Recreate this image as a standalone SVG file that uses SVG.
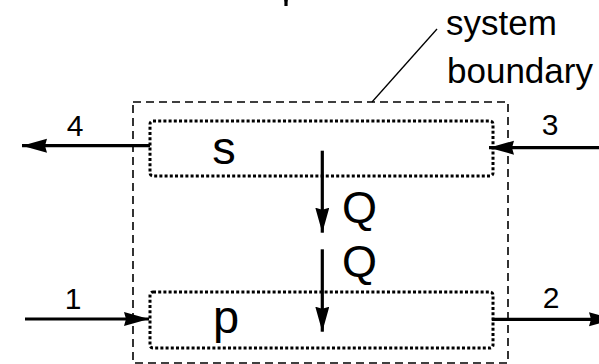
<svg xmlns="http://www.w3.org/2000/svg" width="599" height="364" viewBox="0 0 599 364">
<style>
.lbl{font-family:"Liberation Sans",Arial,sans-serif;fill:#000}
.num{font-size:30px;text-anchor:middle}
.big{font-size:47px;text-anchor:middle}
.q{font-size:45px}
.sb{font-size:35px}
.box{fill:none;stroke:#000;stroke-width:3;stroke-dasharray:3 2.2}
.bound{fill:none;stroke:#000;stroke-width:1.6;stroke-dasharray:8 5}
.flow{fill:none;stroke:#000;stroke-width:3.2}
</style>
<defs>
<marker id="ah" markerUnits="userSpaceOnUse" markerWidth="28" markerHeight="16" refX="25" refY="7" orient="auto">
<path d="M0,0 L25,7 L0,14 L2,7 z" fill="#000"/>
</marker>
</defs>
<g id="system-boundary">
<rect class="bound" x="133" y="102" width="375" height="261"/>
<line x1="372" y1="102" x2="437" y2="29" stroke="#000" stroke-width="1.3"/>
<text class="lbl sb" x="446" y="35">system</text>
<text class="lbl sb" x="447" y="83">boundary</text>
</g>
<g id="node-s">
<rect class="box" x="150" y="121" width="343" height="55" rx="3"/>
<text class="lbl big" x="224" y="164">s</text>
</g>
<g id="node-p">
<rect class="box" x="150" y="292" width="343" height="56" rx="3"/>
<text class="lbl big" x="226" y="333">p</text>
</g>
<g id="connectors">
<line class="flow" x1="286" y1="-40" x2="286" y2="6" marker-end="url(#ah)"/>
<line class="flow" x1="150" y1="145.7" x2="22" y2="145.7" marker-end="url(#ah)"/>
<line class="flow" x1="620" y1="147.7" x2="489" y2="147.7" marker-end="url(#ah)"/>
<line class="flow" x1="25" y1="319" x2="149" y2="319" marker-end="url(#ah)"/>
<line class="flow" x1="492" y1="319.3" x2="614" y2="319.3" marker-end="url(#ah)"/>
<line class="flow" x1="322.3" y1="150.7" x2="322.3" y2="232.7" marker-end="url(#ah)"/>
<line class="flow" x1="322.3" y1="249.3" x2="322.3" y2="331.7" marker-end="url(#ah)"/>
</g>
<g id="labels">
<text class="lbl num" x="75" y="136">4</text>
<text class="lbl num" x="550" y="135">3</text>
<text class="lbl num" x="73" y="309">1</text>
<text class="lbl num" x="551" y="308">2</text>
<text class="lbl q" x="342" y="223">Q</text>
<text class="lbl q" x="342" y="277">Q</text>
</g>
</svg>
